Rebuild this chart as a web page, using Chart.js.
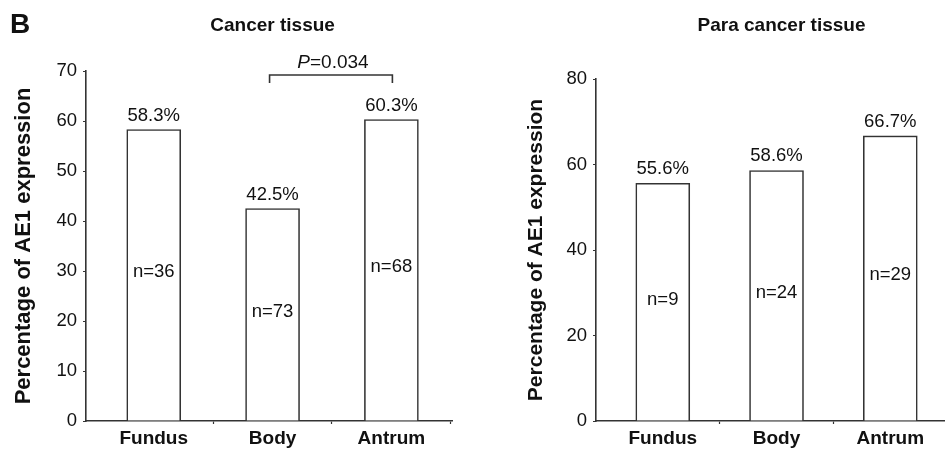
<!DOCTYPE html>
<html>
<head>
<meta charset="utf-8">
<script src="https://cdn.jsdelivr.net/npm/chart.js@4.4.1/dist/chart.umd.min.js"></script>
<style>
  html, body { margin: 0; padding: 0; background: #fff; }
  #wrap { position: relative; width: 945px; height: 451px; overflow: hidden; }
  #wrap canvas { position: absolute; top: 0; }
</style>
</head>
<body>
<div id="wrap">
  <canvas id="cancer" width="470" height="451" style="left:0"></canvas>
  <canvas id="para" width="475" height="451" style="left:470px"></canvas>
</div>
<script>
// data
const sites = ['Fundus', 'Body', 'Antrum'];
const cancerPct = [58.3, 42.5, 60.3];
const cancerN = [36, 73, 68];
const paraPct = [55.6, 58.6, 66.7];
const paraN = [9, 24, 29];
const cancerYTicks = [0, 10, 20, 30, 40, 50, 60, 70];
const paraYTicks = [0, 20, 40, 60, 80];
const cancerP = '0.034'; // Body vs Antrum

const FONT = "'Liberation Sans', Arial, sans-serif";
const INK = '#111';
const LINE = '#333';

function labelPlugin(cfg){
  return {
    id: 'labels_' + cfg.id,
    afterDatasetsDraw(chart){
      const c = chart.ctx;
      const bars = chart.getDatasetMeta(0).data;
      const ys = chart.scales.y;
      c.save();
      c.fillStyle = INK;
      c.textAlign = 'center';
      c.font = '18.5px ' + FONT;
      bars.forEach((b, i) => {
        c.textBaseline = 'alphabetic';
        c.fillText(cfg.pct[i].toFixed(1) + '%', b.x, b.y - 9);
        c.textBaseline = 'middle';
        c.fillText('n=' + cfg.n[i], b.x, b.base - (b.base - b.y) * 0.51);
      });

      // panel title
      c.textBaseline = 'alphabetic';
      c.font = 'bold 19px ' + FONT;
      c.fillText(cfg.title, bars[1].x + cfg.titleShift, 31);

      if (cfg.panel){
        c.textAlign = 'left';
        c.font = 'bold 28px ' + FONT;
        c.fillText(cfg.panel, 10, 33);
      }

      if (cfg.bracket){
        const x1 = bars[cfg.bracket.from].x - 3;
        const x2 = bars[cfg.bracket.to].x + 1;
        const yl = ys.getPixelForValue(cfg.bracket.at);
        const ye = ys.getPixelForValue(cfg.bracket.at - 1.6);
        c.strokeStyle = LINE;
        c.lineWidth = 1.6;
        c.beginPath();
        c.moveTo(x1, ye); c.lineTo(x1, yl); c.lineTo(x2, yl); c.lineTo(x2, ye);
        c.stroke();

        const italic = 'italic 19px ' + FONT, plain = '19px ' + FONT;
        const rest = '=' + cfg.bracket.p;
        c.font = italic; const wP = c.measureText('P').width;
        c.font = plain; const wR = c.measureText(rest).width;
        const sx = (x1 + x2) / 2 + 2 - (wP + wR) / 2;
        c.textAlign = 'left';
        c.font = italic; c.fillText('P', sx, yl - 7);
        c.font = plain; c.fillText(rest, sx + wP, yl - 7);
      }
      c.restore();
    }
  };
}

function makeChart(cfg){
  const ctx = document.getElementById(cfg.id).getContext('2d');
  const yMax = cfg.yTicks[cfg.yTicks.length - 1];
  return new Chart(ctx, {
    type: 'bar',
    data: {
      datasets: [{
        data: cfg.pct.map((v, i) => ({ x: i, y: v })),
        backgroundColor: '#fff',
        borderColor: LINE,
        borderWidth: 1.6,
        barThickness: 54
      }]
    },
    options: {
      responsive: false,
      animation: false,
      layout: { padding: { top: cfg.top, left: 0, right: cfg.padRight, bottom: 0 } },
      plugins: { legend: { display: false }, tooltip: { enabled: false } },
      scales: {
        x: {
          type: 'linear',
          min: cfg.xMin, max: cfg.xMax,
          bounds: 'data',
          offset: false,
          afterBuildTicks: s => {
            s.ticks = [0, 0.5, 1, 1.5, 2, 2.5].filter(v => v <= cfg.xMax + 1e-6).map(v => ({ value: v }));
          },
          afterFit: s => { s.height = 30; },
          ticks: {
            callback: v => Number.isInteger(v) ? sites[v] : '',
            font: { family: FONT, size: 19, weight: 'bold' },
            color: INK, padding: 3, maxRotation: 0, autoSkip: false
          },
          grid: {
            offset: false,
            drawOnChartArea: false, tickLength: 3, tickWidth: 1.2,
            tickColor: c => (c.tick && Number.isInteger(c.tick.value)) ? 'rgba(0,0,0,0)' : LINE
          },
          border: { color: LINE, width: 1.6 }
        },
        y: {
          min: 0, max: yMax,
          afterBuildTicks: s => { s.ticks = cfg.yTicks.map(v => ({ value: v })); },
          afterFit: s => { s.width = cfg.axisX; },
          ticks: { font: { family: FONT, size: 18.5 }, color: INK, padding: 6 },
          grid: { drawOnChartArea: false, tickLength: 3, tickWidth: 1.2, tickColor: LINE },
          border: { color: LINE, width: 1.6 },
          title: {
            display: true,
            text: 'Percentage of AE1 expression',
            font: { family: FONT, size: cfg.yTitleSize, weight: 'bold' },
            color: INK,
            padding: { top: cfg.yTitlePad, bottom: 0 }
          }
        }
      }
    },
    plugins: [labelPlugin(cfg)]
  });
}

makeChart({
  id: 'cancer', title: 'Cancer tissue', panel: 'B', titleShift: 0,
  pct: cancerPct, n: cancerN, yTicks: cancerYTicks,
  top: 71, padRight: 18, axisX: 86, xMin: -0.57, xMax: 2.51,
  yTitleSize: 22, yTitlePad: 11,
  bracket: { from: 1, to: 2, at: 69.2, p: cancerP }
});

makeChart({
  id: 'para', title: 'Para cancer tissue', titleShift: 5,
  pct: paraPct, n: paraN, yTicks: paraYTicks,
  top: 79, padRight: 0, axisX: 126, xMin: -0.587, xMax: 2.481,
  yTitleSize: 21, yTitlePad: 54
});
</script>
</body>
</html>
